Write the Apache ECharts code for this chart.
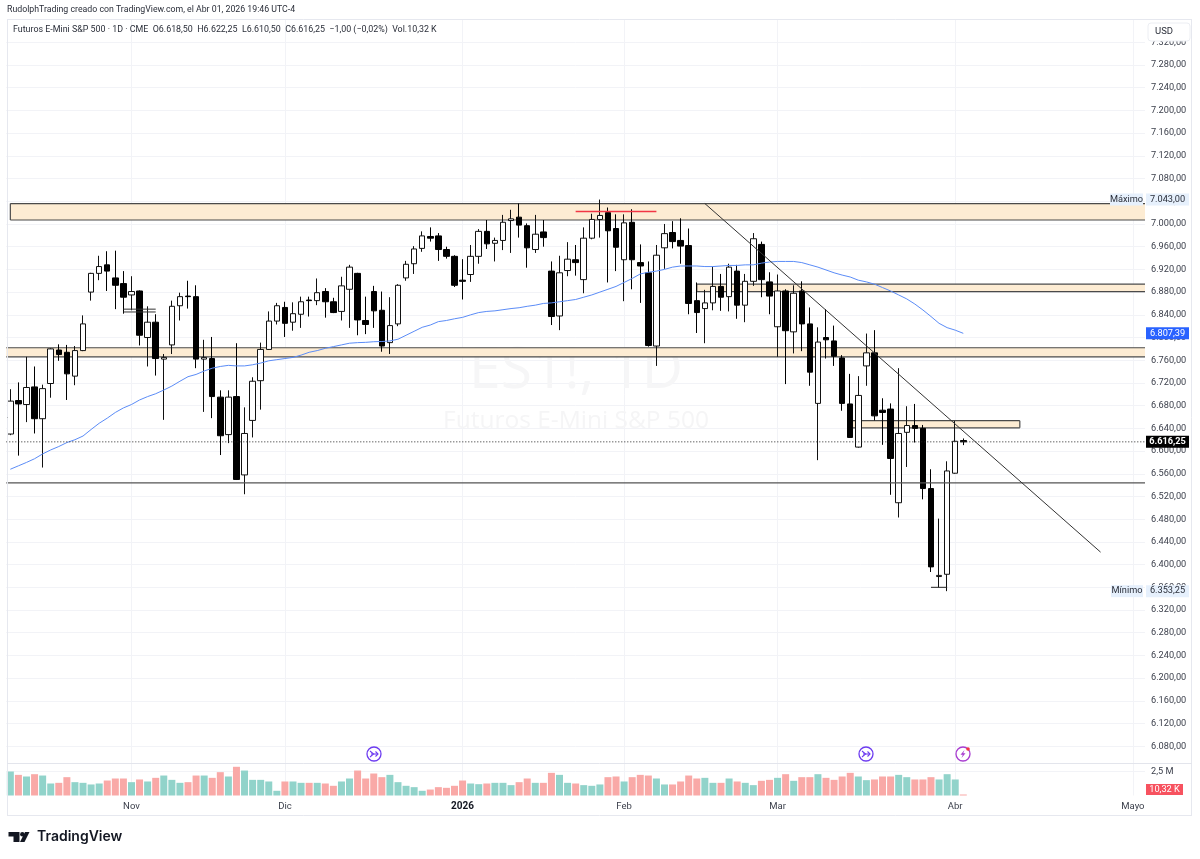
<!DOCTYPE html>
<html><head><meta charset="utf-8">
<style>html,body{margin:0;padding:0;background:#fff}#c{width:1200px;height:859px}</style>
<script src="https://cdn.jsdelivr.net/npm/echarts@6/dist/echarts.min.js"></script>
</head><body><div id="c"></div>
<script>
const opens=[6630,6689,6682,6713,6657,6719,6778,6774,6732,6777,6880,6913,6928,6905,6895,6875,6882,6800,6827,6762,6787,6856,6873,6872,6762,6763,6695,6629,6696,6558,6654,6724,6779,6829,6853,6827,6841,6866,6865,6881,6863,6846,6885,6913,6830,6881,6848,6791,6824,6905,6930,6957,6978,6979,6955,6943,6901,6911,6943,6987,6966,6971,7006,7012,6997,6955,6986,6917,6838,6918,6937,6902,6975,7008,7020,6992,6937,7003,6932,6914,6785,6958,6985,6971,6962,6865,6851,6861,6890,6872,6917,6857,6899,6964,6898,6819,6882,6810,6882,6824,6684,6800,6794,6764,6683,6607,6750,6773,6672,6674,6509,6633,6645,6640,6534,6379,6383,6561,6618.5];
const highs=[6709,6721,6766,6749,6717,6781,6788,6787,6785,6839,6914,6944,6952,6953,6917,6908,6883,6855,6841,6771,6865,6879,6900,6892,6796,6801,6707,6707,6790,6677,6730,6791,6846,6861,6863,6862,6872,6872,6904,6887,6870,6907,6928,6914,6872,6891,6881,6871,6894,6935,6961,6987,6994,6984,6960,6945,6938,6963,6991,7007,6976,7016,7025,7036,7001,7016,7007,6934,6944,6968,6963,6994,7018,7043,7029,7017,7017,7026,6964,6934,6963,7000,7005,7010,6992,6897,6884,6925,6912,6930,6928,6912,6984,6969,6915,6911,6885,6892,6899,6853,6818,6850,6821,6769,6736,6732,6807,6813,6693,6684,6746,6679,6683,6646,6568,6481,6582,6653,6622.25];
const lows=[6628,6592,6651,6631,6571,6694,6759,6690,6716,6776,6865,6901,6882,6850,6842,6848,6786,6749,6733,6655,6771,6830,6851,6746,6669,6658,6593,6614,6549,6524,6624,6673,6778,6823,6801,6812,6817,6837,6857,6835,6843,6830,6817,6804,6806,6817,6775,6771,6820,6900,6912,6951,6969,6935,6939,6889,6867,6898,6930,6956,6934,6954,6949,6976,6923,6949,6960,6822,6813,6908,6909,6878,6973,6976,6897,6917,6864,6885,6861,6784,6750,6921,6957,6930,6841,6808,6790,6848,6847,6846,6833,6827,6891,6871,6841,6766,6718,6772,6776,6715,6584,6763,6750,6671,6623,6606,6715,6654,6611,6523,6483,6572,6615,6515,6387,6360,6353.25,6560,6610.5];
const closes=[6688,6683,6712,6657,6710,6780,6770,6736,6777,6824,6913,6925,6917,6892,6871,6881,6804,6827,6763,6765,6855,6872,6872,6762,6765,6696,6627,6695,6550,6631,6723,6779,6829,6856,6825,6842,6863,6865,6879,6863,6844,6891,6924,6831,6823,6847,6785,6821,6892,6929,6956,6979,6975,6955,6943,6892,6899,6943,6987,6965,6971,7003,7009,6998,6958,6982,6976,6837,6914,6938,6932,6975,7008,7015,6988,6959,7002,6937,6926,6786,6945,6983,6969,6961,6860,6844,6861,6890,6871,6924,6857,6899,6974,6902,6873,6882,6812,6878,6824,6739,6792,6796,6767,6684,6624,6698,6773,6662,6668,6587,6631,6645,6640,6534,6396,6381,6565,6617.25,6616.25];
const ma50=[6568,6574,6580,6586.5,6595,6602,6608,6615,6620,6626.5,6638,6649,6658,6668,6676,6682,6690,6696,6701,6707.5,6714.5,6723,6731,6735,6741,6746,6749,6751,6750,6750,6752,6755,6759,6761,6763,6765,6769,6774,6777,6781,6784,6787,6790,6791,6791.5,6792.6,6793,6794,6797,6804,6811,6818,6822,6828,6830,6833,6835.5,6840,6844,6846,6847,6849,6851,6852.5,6855,6857,6860,6861,6863,6865,6867,6871,6875,6880,6885,6890,6897,6904,6912,6915,6917,6920,6924,6926,6926,6926,6925,6925,6926,6927,6927,6928,6928,6931,6933,6934,6934,6934,6932,6928,6924,6919,6914,6910,6906.6,6901,6898,6894,6888,6882,6875,6868,6859,6848.5,6837,6825,6817.4,6813,6807.39];
const volumes=[2.5,2.15,1.98,2.22,2.08,1.25,1.32,1.91,1.39,1.32,1.15,1.25,1.56,1.77,1.77,1.39,1.67,1.46,1.84,2.08,1.63,1.32,1.39,2.08,2.08,1.84,2.43,1.98,2.99,2.6,1.63,1.63,1.46,0.49,1.46,1.46,1.32,1.32,1.32,1.25,1.01,1.46,1.77,2.6,1.77,2.29,1.91,2.15,1.39,1.01,0.87,0.49,0.62,0.87,0.8,1.01,1.56,1.25,1.18,1.25,1.32,1.32,1.08,1.39,1.77,1.32,1.32,2.36,2.15,1.32,1.25,1.08,1.01,1.15,1.91,1.98,1.46,1.91,2.15,2.08,1.77,1.15,1.15,1.46,2.08,1.77,1.84,1.32,1.32,1.77,1.46,1.32,1.08,1.53,1.63,1.84,2.22,1.53,1.91,1.91,2.22,1.84,1.63,1.98,2.36,1.98,1.6,1.67,1.98,1.98,2.15,1.91,1.67,1.67,1.91,1.67,2.22,1.67,0.01032];
const monthTicks={15:'Nov',34:'Dic',56:'2026',76:'Feb',95:'Mar',117:'Abr',139:'Mayo'};
const categories=Array.from({length:141},(_,i)=>monthTicks[i]||String(i));
// zones: start index, end index (null = edge of pane), top price, bottom price
const zones=[[0,null,7036,7007],[null,null,6782,6766],[85,null,6894,6881],[104,125,6653.5,6641]];
// drawn lines: start index, start price, end index, end price
const levelLine=[null,6544,null,6544];
const trendLine=[86,7036,135,6422];
const redLine=[70,7022,80,7022];
const pairLines=[[14,6850,18,6850],[14,6845,18,6845],[114,6360,116,6360]];
const lastPrice=6616.25, maLast=6807.39, maxPrice=7043, minPrice=6353.25;

const fmt=v=>{const s=v.toFixed(2).split('.');return s[0].replace(/\B(?=(\d{3})+$)/g,'.')+','+s[1];};
const AXF='Roboto,"Liberation Sans",sans-serif';
const TXF='Roboto,"Open Sans",sans-serif';
const AXC='#3a3e4a';
const chart=echarts.init(document.getElementById('c'),null,{renderer:'canvas'});
const GRID='#f2f3f7', GL=6.3, GW=1138.7;
const segStyle=(c,w,d)=>({stroke:c,lineWidth:w,lineDash:d||null,fill:null});
function lineItem(l,style,params,api){
  const a=params.coordSys;
  const p0=api.coord([l[0]===null?0:l[0],l[1]]), p1=api.coord([l[2]===null?0:l[2],l[3]]);
  return {type:'line',shape:{x1:l[0]===null?a.x:p0[0],y1:p0[1],x2:l[2]===null?a.x+a.width:p1[0],y2:p1[1]},style};
}
const zoneItem=(params,api)=>{
  const z=zones[params.dataIndex],a=params.coordSys;
  const pt=api.coord([z[0]===null?0:z[0],z[2]]),pb=api.coord([z[1]===null?0:z[1],z[3]]);
  const x0=z[0]===null?a.x:pt[0],x1=z[1]===null?a.x+a.width:pb[0];
  const edge={stroke:'#4a4a4a',lineWidth:1.2,fill:null};
  const kids=[{type:'rect',shape:{x:x0,y:pt[1],width:x1-x0,height:pb[1]-pt[1]},style:{fill:'#fdecd3'}},
    {type:'line',shape:{x1:x0,y1:pt[1],x2:x1,y2:pt[1]},style:edge},
    {type:'line',shape:{x1:x0,y1:pb[1],x2:x1,y2:pb[1]},style:edge}];
  if(z[0]!==null)kids.push({type:'line',shape:{x1:x0,y1:pt[1],x2:x0,y2:pb[1]},style:edge});
  if(z[1]!==null)kids.push({type:'line',shape:{x1:x1,y1:pt[1],x2:x1,y2:pb[1]},style:edge});
  return {type:'group',children:kids};
};
const overlays=[[levelLine,segStyle('#555',1.3)],[trendLine,segStyle('#333',1)],[redLine,segStyle('#f23645',1.3)],
  [pairLines[0],segStyle('#333',1)],[pairLines[1],segStyle('#333',1)],[pairLines[2],segStyle('#222',1)],
  [[null,lastPrice,null,lastPrice],segStyle('#222',1,[1,2])]];
chart.setOption({
  animation:false,backgroundColor:'#fff',
  grid:[{left:GL,width:GW,top:19.6,height:749.4,show:false},{left:GL,width:GW,top:763.5,height:32,show:false}],
  xAxis:[
   {type:'category',gridIndex:0,data:categories,boundaryGap:true,axisLine:{show:false},axisTick:{show:false},axisLabel:{show:false},
    splitLine:{show:true,alignWithLabel:true,interval:i=>!!monthTicks[i],lineStyle:{color:GRID,width:1}}},
   {type:'category',gridIndex:1,data:categories,boundaryGap:true,axisLine:{show:false},axisTick:{show:false},
    splitLine:{show:true,alignWithLabel:true,interval:i=>!!monthTicks[i],lineStyle:{color:GRID,width:1}},
    axisLabel:{show:true,interval:i=>!!monthTicks[i],margin:6,fontFamily:AXF,fontSize:9.5,color:AXC,hideOverlap:false,
      formatter:v=>v==='2026'?'{b|2026}':v,rich:{b:{fontFamily:AXF,fontSize:10,fontWeight:'bold',color:'#131722'}}}}
  ],
  yAxis:[
   {type:'value',gridIndex:0,position:'right',min:6040,max:7360,interval:40,axisLine:{show:false},axisTick:{show:false},
    splitLine:{show:true,showMinLine:false,showMaxLine:false,lineStyle:{color:GRID,width:1}},
    axisLabel:{margin:6,fontFamily:AXF,fontSize:9.2,color:AXC,showMinLabel:false,showMaxLabel:false,formatter:v=>fmt(v)}},
   {type:'value',gridIndex:1,position:'right',min:0,max:3.3333,interval:2.5,axisLine:{show:false},axisTick:{show:false},
    splitLine:{show:true,showMinLine:false,showMaxLine:false,lineStyle:{color:GRID,width:1}},
    axisLabel:{margin:6,fontFamily:AXF,fontSize:9.2,color:AXC,showMinLabel:false,showMaxLabel:false,formatter:v=>v===2.5?'2,5 M':''}}
  ],
  series:[
   {type:'custom',xAxisIndex:0,yAxisIndex:0,z:1,silent:true,clip:true,data:zones.map(()=>[0,6500]),renderItem:zoneItem},
   {type:'candlestick',xAxisIndex:0,yAxisIndex:0,z:2,barWidth:6,data:opens.map((o,i)=>[o,closes[i],lows[i],highs[i]]),
    itemStyle:{color:'#ffffff',color0:'#000000',borderColor:'#111111',borderColor0:'#000000',borderWidth:1}},
   {type:'line',xAxisIndex:0,yAxisIndex:0,z:3,data:ma50,showSymbol:false,smooth:false,lineStyle:{color:'#5b8cf7',width:1},silent:true},
   {type:'custom',xAxisIndex:0,yAxisIndex:0,z:4,silent:true,clip:true,data:overlays.map(()=>[0,6500]),
    renderItem:(params,api)=>{const o=overlays[params.dataIndex];return lineItem(o[0],o[1],params,api);}},
   {type:'bar',xAxisIndex:1,yAxisIndex:1,barWidth:7,barMinHeight:1,
    data:volumes.map((v,i)=>({value:v,itemStyle:{color:closes[i]>=opens[i]?'#91d3ca':'#f9a9a7'}}))}
  ]
});
const yp=p=>chart.convertToPixel({yAxisIndex:0},p);
const tag=(x,y,w,h,bg,txt,col,font,weight)=>({type:'group',z:50,children:[
  {type:'rect',shape:{x,y,width:w,height:h},style:{fill:bg},z:50},
  {type:'text',x:x+w/2,y:y+h/2,z:51,style:{text:txt,fill:col,font:(weight||'normal')+' 9.2px '+(font||AXF),textAlign:'center',textVerticalAlign:'middle'}}]});
const hline=(x1,x2,y,c)=>({type:'line',z:40,shape:{x1,y1:y,x2,y2:y},style:{stroke:c,lineWidth:1}});
const vline=(x,y1,y2,c)=>({type:'line',z:40,shape:{x1:x,y1,x2:x,y2},style:{stroke:c,lineWidth:1}});
const icon=(cx,color,kids)=>({type:'group',z:45,x:cx,y:754,children:[{type:'circle',shape:{cx:0,cy:0,r:7},style:{fill:'#fff',stroke:color,lineWidth:1.3}}].concat(kids)});
const arrowKids=c=>[{type:'polyline',shape:{points:[[-4,-3],[-0.5,0],[-4,3]]},style:{stroke:c,fill:null,lineWidth:1.1}},
  {type:'polyline',shape:{points:[[-3,0],[4,0]]},style:{stroke:c,fill:null,lineWidth:1.1}},
  {type:'polyline',shape:{points:[[1.5,-2.5],[4,0],[1.5,2.5]]},style:{stroke:c,fill:null,lineWidth:1.1}}];
chart.setOption({graphic:{elements:[
  {type:'text',z:0,x:576,y:372,style:{text:'ES1!, 1D',fill:'#f6f6f7',font:'normal 57px "Open Sans",sans-serif',textAlign:'center',textVerticalAlign:'middle'}},
  {type:'text',z:0,x:576,y:421,style:{text:'Futuros E-Mini S&P 500',fill:'#f5f5f6',font:'normal 24.5px "Open Sans",sans-serif',textAlign:'center',textVerticalAlign:'middle'}},
  {type:'text',z:60,x:7,y:10,style:{text:'RudolphTrading creado con TradingView.com, el Abr 01, 2026 19:46 UTC-4',fill:'#2a2e39',font:'normal 8.75px '+TXF,textVerticalAlign:'middle'}},
  {type:'text',z:60,x:13,y:30,style:{text:'Futuros E-Mini S&P 500 · 1D · CME  O6.618,50  H6.622,25  L6.610,50  C6.616,25  −1,00 (−0,02%)  Vol.10,32 K',fill:'#2a2e39',font:'normal 8.9px '+TXF,textVerticalAlign:'middle'}},
  hline(7,1192,19.5,'#e6e8ef'),hline(7,1192,815.5,'#e6e8ef'),vline(7.5,19,816,'#e6e8ef'),vline(1191.5,19,816,'#e6e8ef'),
  hline(7,1192,763.5,'#e3e5ec'),
  {type:'rect',z:50,shape:{x:1148,y:23,width:42,height:18,r:3},style:{fill:'#fff',stroke:'#eceef3',lineWidth:1}},
  {type:'text',z:51,x:1155,y:32,style:{text:'USD',fill:'#2a2e39',font:'normal 9.5px '+AXF,textVerticalAlign:'middle'}},
  tag(1110,yp(maxPrice)-6,33,12,'#e6f0fc','Máximo','#2a2e39'),
  tag(1146,yp(maxPrice)-6,43,12,'#e6f0fc',fmt(maxPrice),'#2a2e39'),
  tag(1111,yp(minPrice)-6,32,12,'#e6f0fc','Mínimo','#2a2e39'),
  tag(1146,yp(minPrice)-6,43,12,'#e6f0fc',fmt(minPrice),'#2a2e39'),
  tag(1146,yp(maLast)-6,43,12,'#2962ff',fmt(maLast),'#fff'),
  tag(1146,yp(lastPrice)-6,43,12,'#000',fmt(lastPrice),'#fff',null,'bold'),
  tag(1146,784,37,11,'#f7525f','10,32 K','#fff'),
  icon(374,'#6d3cf0',arrowKids('#6d3cf0')),
  icon(866,'#6d3cf0',arrowKids('#6d3cf0')),
  icon(963,'#a83cd0',[{type:'polygon',shape:{points:[[1.5,-4],[-2.5,0.8],[-0.2,0.8],[-1.5,4],[2.5,-0.8],[0.2,-0.8]]},style:{fill:'#a83cd0'}},
    {type:'circle',shape:{cx:5,cy:-5,r:1.8},style:{fill:'#f23645'}}]),
  {type:'polygon',z:60,shape:{points:[[8.5,832],[19.5,832],[19.5,842],[13.5,842],[13.5,836.5],[8.5,836.5]]},style:{fill:'#131722'}},
  {type:'circle',z:60,shape:{cx:22.3,cy:834.2,r:2.2},style:{fill:'#131722'}},
  {type:'polygon',z:60,shape:{points:[[25,832],[29.5,832],[24.5,842],[20,842]]},style:{fill:'#131722'}},
  {type:'text',z:60,x:37,y:837,style:{text:'TradingView',fill:'#131722',font:'600 14px Inter,"Open Sans",sans-serif',textVerticalAlign:'middle'}}
]}});
</script></body></html>
